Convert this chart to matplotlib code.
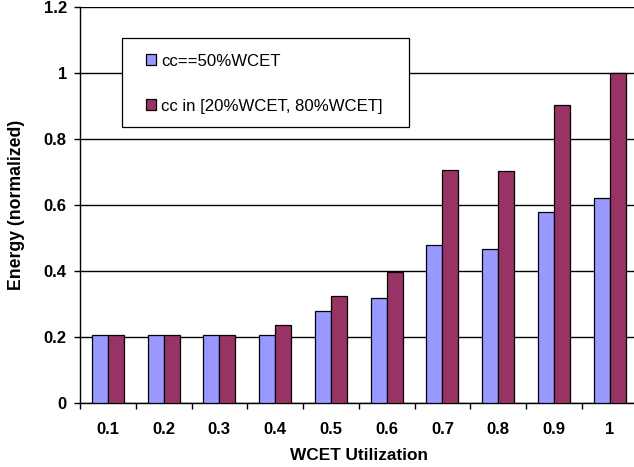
import matplotlib
matplotlib.use("Agg")
import matplotlib.pyplot as plt
import numpy as np
from matplotlib.patches import Rectangle
from matplotlib.ticker import FuncFormatter, FixedLocator

plt.rcParams['font.family'] = ['Liberation Sans', 'DejaVu Sans']

categories = ["0.1", "0.2", "0.3", "0.4", "0.5", "0.6", "0.7", "0.8", "0.9", "1"]
cc_50 = [0.207, 0.207, 0.207, 0.207, 0.279, 0.320, 0.479, 0.468, 0.578, 0.621]
cc_range = [0.207, 0.207, 0.207, 0.236, 0.324, 0.396, 0.706, 0.703, 0.905, 1.0]
series_labels = ["cc==50%WCET", "cc in [20%WCET, 80%WCET]"]
yticks = [0, 0.2, 0.4, 0.6, 0.8, 1.0, 1.2]

W, H = 634, 467
fig = plt.figure(figsize=(W / 100, H / 100), dpi=100)
ax = fig.add_axes([80 / W, 64 / H, 557.5 / W, 395.6 / H])

x = np.arange(len(categories))
w = 16 / 55.75
b1 = ax.bar(x - w / 2, cc_50, w, color='#9999FF', edgecolor='black', linewidth=0.9, zorder=3)
b2 = ax.bar(x + w / 2, cc_range, w, color='#993366', edgecolor='black', linewidth=0.9, zorder=3)

ax.set_xlim(-0.5, len(categories) - 0.5)
ax.set_ylim(0, 1.2)
ax.set_yticks(yticks)
ax.yaxis.set_major_formatter(FuncFormatter(lambda v, p: "%g" % v))
ax.yaxis.grid(True, color='black', linewidth=1.0, zorder=0)
ax.set_axisbelow(True)

# x ticks: marks at category boundaries, labels at centers
ax.xaxis.set_major_locator(FixedLocator(np.arange(-0.5, len(categories) + 0.5, 1.0)))
ax.xaxis.set_major_formatter(FuncFormatter(lambda v, p: ""))
ax.xaxis.set_minor_locator(FixedLocator(x))
ax.set_xticklabels(categories, minor=True)
ax.tick_params(axis='x', which='major', length=4, width=1, direction='out', color='black')
ax.tick_params(axis='x', which='minor', length=0, pad=13.5, labelsize=12)
ax.tick_params(axis='y', which='major', length=4, width=1, direction='out', pad=5.5, labelsize=12)
for lab in ax.get_xticklabels(minor=True) + ax.get_yticklabels():
    lab.set_fontweight('bold')

for s in ['top', 'right']:
    ax.spines[s].set_visible(False)
ax.spines['left'].set_linewidth(1)
ax.spines['bottom'].set_linewidth(1)

ax.set_xlabel("WCET Utilization", fontsize=12.4, fontweight='bold')
ax.set_ylabel("Energy (normalized)", fontsize=12.7, fontweight='bold')
ax.xaxis.label.set_va('center')
ax.yaxis.label.set_va('center')
ax.xaxis.set_label_coords(0.5, (403 - 455) / 395.6)
ax.yaxis.set_label_coords((17 - 80) / 557.5, 0.5)

# legend frame
frame = Rectangle((122 / W, 1 - 127 / H), (409 - 122) / W, (127 - 38) / H,
                  transform=fig.transFigure, facecolor='white', edgecolor='black',
                  linewidth=0.9, zorder=5)
fig.patches.append(frame)
leg = fig.legend([b1, b2], series_labels, loc='upper left',
                 bbox_to_anchor=(146 / W, 1 - 53.5 / H), bbox_transform=fig.transFigure,
                 frameon=False, fontsize=12.1, borderpad=0, borderaxespad=0,
                 handlelength=0.6, handleheight=0.6, handletextpad=0.3,
                 labelspacing=1.8)
leg.set_zorder(6)

fig.savefig("out.png", dpi=100)
